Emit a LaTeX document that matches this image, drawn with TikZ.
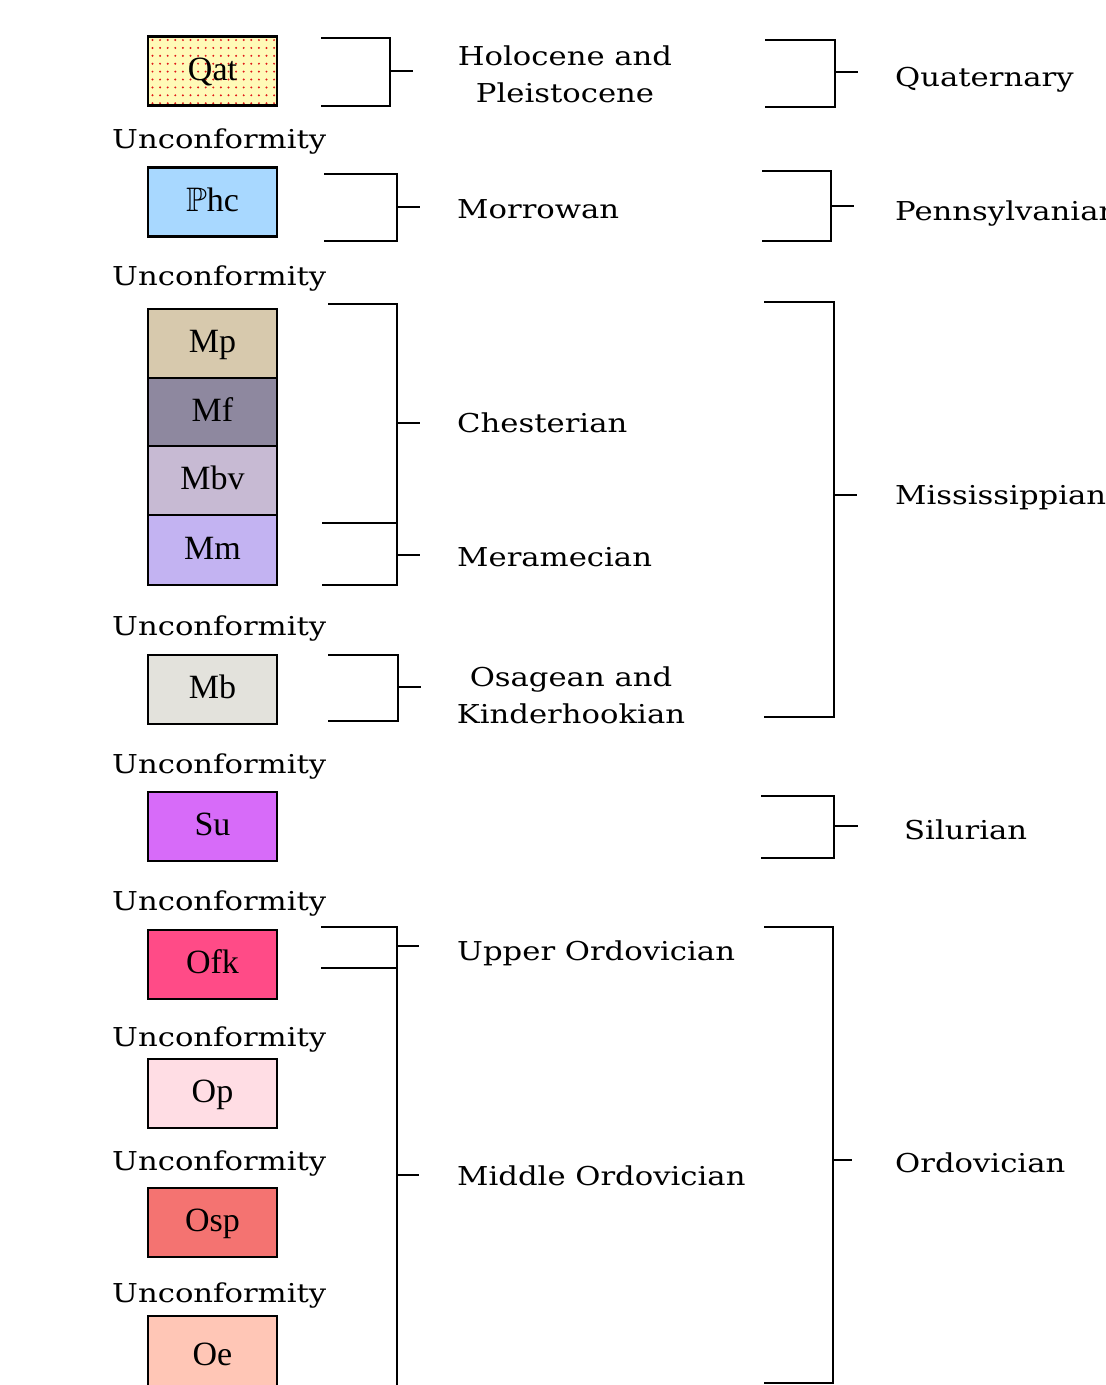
\documentclass[tikz,border=0pt]{standalone}
\usepackage{amssymb}
\usepackage{fontspec}
\setmainfont{DejaVu Serif}[FakeStretch=1.18]
\newfontfamily\boxfont{Liberation Serif}
\begin{document}
\begin{tikzpicture}[x=1pt,y=-1pt,
  unit/.style={draw=black,line width=2.8pt,minimum width=129pt,minimum height=69pt,inner sep=0pt,
     font=\boxfont\fontsize{34}{38}\selectfont,text height=24pt,text depth=6pt},
  unc/.style={anchor=west,inner sep=0pt,font=\fontsize{26}{37}\selectfont,text height=22pt,text depth=4pt},
  lbl/.style={anchor=west,inner sep=0pt,font=\fontsize{26}{37}\selectfont,text height=22pt,text depth=4pt},
  lbl2/.style={inner sep=0pt,align=center,font=\fontsize{26}{37}\selectfont},
  brk/.style={line width=2.8pt,line cap=rect}]
\definecolor{cqat}{HTML}{FFFAB8}
\definecolor{cdot}{HTML}{E01818}
\definecolor{cphc}{HTML}{A8D8FF}
\definecolor{cmp}{HTML}{D7C9AD}
\definecolor{cmf}{HTML}{8E889F}
\definecolor{cmbv}{HTML}{C7BAD3}
\definecolor{cmm}{HTML}{C3B3F2}
\definecolor{cmb}{HTML}{E3E2DC}
\definecolor{csu}{HTML}{D76BF9}
\definecolor{cofk}{HTML}{FF4B87}
\definecolor{cop}{HTML}{FFDDE4}
\definecolor{cosp}{HTML}{F47371}
\definecolor{coe}{HTML}{FFC6B6}
\fill[white] (0,0) rectangle (1106,1385);
\useasboundingbox (0,0) rectangle (1106,1385);
\clip (0,0) rectangle (1106,1385);
% Qat with dots
\fill[cqat] (148,36) rectangle (277,106);
\foreach \i in {0,...,16} {\foreach \j in {0,...,8} {
  \fill[cdot] (152.5+7.6*\i,40+7.9*\j) circle (1.1);}}
\node[unit] (qat) at (212.5,71) {Qat};
\node[unit,fill=cphc] (phc) at (212.5,202) {$\mathbb{P}$hc};
\node[unit,fill=cmp] (mp) at (212.5,343.5) {Mp};
\node[unit,fill=cmf,minimum height=68pt] (mf) at (212.5,412) {Mf};
\node[unit,fill=cmbv] (mbv) at (212.5,480.5) {Mbv};
\node[unit,fill=cmm,minimum height=70pt] (mm) at (212.5,550) {Mm};
\node[unit,fill=cmb] (mb) at (212.5,689.5) {Mb};
\node[unit,fill=csu] (su) at (212.5,826.5) {Su};
\node[unit,fill=cofk] (ofk) at (212.5,964.5) {Ofk};
\node[unit,fill=cop] (op) at (212.5,1093.5) {Op};
\node[unit,fill=cosp] (osp) at (212.5,1222.5) {Osp};
\node[unit,fill=coe,minimum height=80pt] (oe) at (212.5,1356) {Oe};
% Unconformity labels
\foreach \y/\n in {139/u1,276/u2,626/u3,764/u4,901/u5,1037/u6,1161/u7,1293/u8}
  \node[unc] (\n) at (112,\y) {Unconformity};
% brackets
\draw[brk] (322,38) -- (390,38) -- (390,106) -- (322,106);
\draw[brk] (390,71) -- (412,71);
\draw[brk] (766,40) -- (835,40) -- (835,107) -- (766,107);
\draw[brk] (835,72) -- (857,72);
\draw[brk] (325,174) -- (397,174) -- (397,241) -- (325,241);
\draw[brk] (397,207) -- (419,207);
\draw[brk] (763,171) -- (831,171) -- (831,241) -- (763,241);
\draw[brk] (831,206) -- (853,206);
\draw[brk] (329,304) -- (397,304) -- (397,585) -- (323,585);
\draw[brk] (323,523) -- (397,523);
\draw[brk] (397,423) -- (419,423);
\draw[brk] (397,555) -- (419,555);
\draw[brk] (765,302) -- (834,302) -- (834,717) -- (765,717);
\draw[brk] (834,495) -- (856,495);
\draw[brk] (329,655) -- (398,655) -- (398,721) -- (329,721);
\draw[brk] (398,687) -- (420,687);
\draw[brk] (762,796) -- (834,796) -- (834,858) -- (762,858);
\draw[brk] (834,826) -- (857,826);
\draw[brk] (322,927) -- (397,927) -- (397,1395);
\draw[brk] (322,968) -- (397,968);
\draw[brk] (397,946) -- (418,946);
\draw[brk] (397,1175) -- (418,1175);
\draw[brk] (765,927) -- (833,927) -- (833,1383) -- (765,1383);
\draw[brk] (833,1160) -- (851,1160);
% labels
\node[lbl2] (holo) at (565,74.5) {Holocene and\\Pleistocene};
\node[lbl] (quat) at (895,77) {Quaternary};
\node[lbl] (morr) at (457,209) {Morrowan};
\node[lbl] (penn) at (895,211) {Pennsylvanian};
\node[lbl] (ches) at (457,423) {Chesterian};
\node[lbl] (mera) at (457,557) {Meramecian};
\node[lbl] (miss) at (895,495) {Mississippian};
\node[lbl2] (osag) at (571,695.5) {Osagean and\\Kinderhookian};
\node[lbl] (silu) at (904,830) {Silurian};
\node[lbl] (uord) at (457,951) {Upper Ordovician};
\node[lbl] (mord) at (457,1176) {Middle Ordovician};
\node[lbl] (ordo) at (895,1163) {Ordovician};
\end{tikzpicture}
\end{document}
